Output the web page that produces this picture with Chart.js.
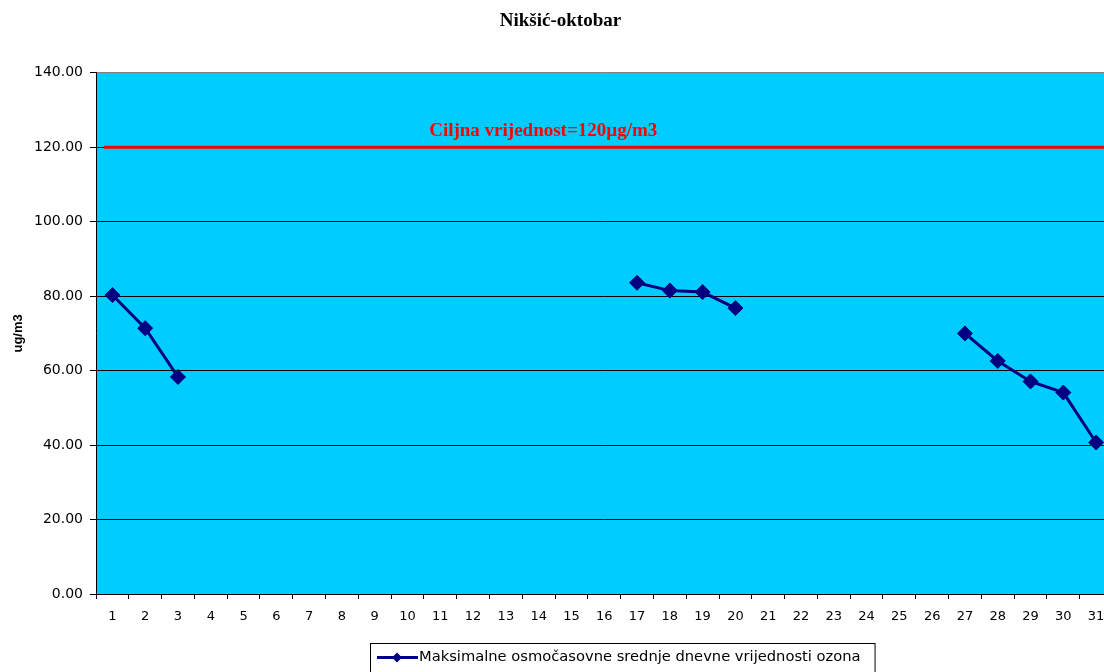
<!DOCTYPE html>
<html>
<head>
<meta charset="utf-8">
<script src="https://cdn.jsdelivr.net/npm/chart.js@4.4.1/dist/chart.umd.min.js"></script>
<style>
  html, body { margin: 0; padding: 0; background: #fff; overflow: hidden; }
  #wrap { width: 1121px; height: 672px; position: relative; }
</style>
</head>
<body>
<div id="wrap"><canvas id="c"></canvas></div>
<script>
// Days of the month
const days = ['1','2','3','4','5','6','7','8','9','10','11','12','13','14','15','16',
              '17','18','19','20','21','22','23','24','25','26','27','28','29','30','31'];

// Maximum daily 8-hour mean ozone (µg/m3); null = no measurement
const ozoneMax8h = [80.3, 71.4, 58.3,
  null, null, null, null, null, null, null, null, null, null, null, null, null,
  83.6, 81.5, 81.1, 76.8,
  null, null, null, null, null, null,
  70.0, 62.6, 57.1, 54.1, 40.7];

const yMin = 0, yMax = 140, yStep = 20;
const targetValue = 120;

const chartTitle = 'Nikšić-oktobar';
const yTitle = 'ug/m3';
const seriesLabel = 'Maksimalne osmočasovne srednje dnevne vrijednosti ozona';
const targetLabel = 'Ciljna vrijednost=120µg/m3';

const SERIES_COLOR = '#000080';
const PLOT_BG = '#00CCFF';
const SANS = '"DejaVu Sans", sans-serif';
const SERIF = '"Liberation Serif", "Times New Roman", serif';

// Cyan plot area
const plotBackground = {
  id: 'plotBackground',
  beforeDraw(chart) {
    const { ctx, chartArea: a } = chart;
    ctx.save();
    ctx.fillStyle = PLOT_BG;
    ctx.fillRect(a.left, a.top, a.right - a.left, a.bottom - a.top);
    ctx.restore();
  }
};

// Red target-value line with its caption
const targetLine = {
  id: 'targetLine',
  afterDatasetsDraw(chart) {
    const { ctx, chartArea: a, scales } = chart;
    const y = scales.y.getPixelForValue(targetValue);
    ctx.save();
    ctx.strokeStyle = '#FF0000';
    ctx.lineWidth = 3;
    ctx.beginPath();
    ctx.moveTo(a.left + 8, y);
    ctx.lineTo(a.right, y);
    ctx.stroke();
    ctx.fillStyle = '#FF0000';
    ctx.font = 'bold 19px ' + SERIF;
    ctx.textAlign = 'center';
    ctx.textBaseline = 'middle';
    ctx.fillText(targetLabel, a.left + (a.right - a.left) * 0.44, y - 16);
    ctx.restore();
  }
};

// Boxed legend below the x axis
const boxedLegend = {
  id: 'boxedLegend',
  afterDraw(chart) {
    const { ctx } = chart;
    const x0 = 370, y0 = 643, h = 40;
    ctx.save();
    ctx.font = '14.7px ' + SANS;
    const tw = ctx.measureText(seriesLabel).width;
    const w = 8 + 40 + 2 + tw + 13;
    ctx.fillStyle = '#fff';
    ctx.fillRect(x0, y0, w, h);
    ctx.strokeStyle = '#000';
    ctx.lineWidth = 1;
    ctx.strokeRect(x0 + 0.5, y0 + 0.5, w, h);
    const cy = y0 + 14.5;
    ctx.strokeStyle = SERIES_COLOR;
    ctx.lineWidth = 3;
    ctx.beginPath();
    ctx.moveTo(x0 + 7, cy);
    ctx.lineTo(x0 + 48, cy);
    ctx.stroke();
    ctx.fillStyle = SERIES_COLOR;
    const dx = x0 + 27, r = 5;
    ctx.beginPath();
    ctx.moveTo(dx, cy - r); ctx.lineTo(dx + r, cy); ctx.lineTo(dx, cy + r); ctx.lineTo(dx - r, cy);
    ctx.closePath();
    ctx.fill();
    ctx.fillStyle = '#000';
    ctx.textAlign = 'left';
    ctx.textBaseline = 'middle';
    ctx.fillText(seriesLabel, x0 + 49, cy);
    ctx.restore();
  }
};

new Chart(document.getElementById('c'), {
  type: 'line',
  data: {
    labels: days,
    datasets: [{
      label: seriesLabel,
      data: ozoneMax8h,
      borderColor: SERIES_COLOR,
      backgroundColor: SERIES_COLOR,
      borderWidth: 3,
      pointStyle: 'rectRot',
      pointRadius: 7.5,
      pointBorderWidth: 1,
      pointBackgroundColor: SERIES_COLOR,
      pointBorderColor: SERIES_COLOR,
      tension: 0,
      spanGaps: false
    }]
  },
  options: {
    responsive: true,
    maintainAspectRatio: false,
    animation: false,
    layout: { padding: { left: 0, right: 0, top: 0, bottom: 48 } },
    plugins: {
      legend: { display: false },
      tooltip: { enabled: false },
      title: {
        display: true,
        text: chartTitle,
        color: '#000',
        font: { family: SERIF, size: 19, weight: 'bold' },
        padding: { top: 10, bottom: 40 }
      }
    },
    scales: {
      x: {
        type: 'category',
        offset: true,
        afterFit(scale) { scale.height = 30; },
        grid: {
          offset: true,
          drawOnChartArea: false,
          drawTicks: true,
          tickLength: 5,
          color: '#000'
        },
        border: { display: true, color: '#000', width: 1 },
        ticks: {
          color: '#000',
          font: { family: SANS, size: 13 },
          padding: 10,
          autoSkip: false,
          maxRotation: 0
        }
      },
      y: {
        min: yMin,
        max: yMax,
        afterFit(scale) { scale.width = 96; },
        title: {
          display: true,
          text: yTitle,
          color: '#000',
          font: { family: '"Liberation Sans", Arial, sans-serif', size: 13, weight: 'bold' },
          padding: { top: 11, bottom: 0 }
        },
        grid: {
          color: (c) => (c.tick && c.tick.value === yMax ? '#808080' : '#000'),
          tickColor: '#000',
          lineWidth: 1,
          tickLength: 6,
          drawTicks: true
        },
        border: { display: true, color: '#000', width: 1 },
        ticks: {
          stepSize: yStep,
          color: '#000',
          font: { family: SANS, size: 14 },
          padding: 7,
          callback: (v) => Number(v).toFixed(2)
        }
      }
    }
  },
  plugins: [plotBackground, targetLine, boxedLegend]
});
</script>
</body>
</html>
